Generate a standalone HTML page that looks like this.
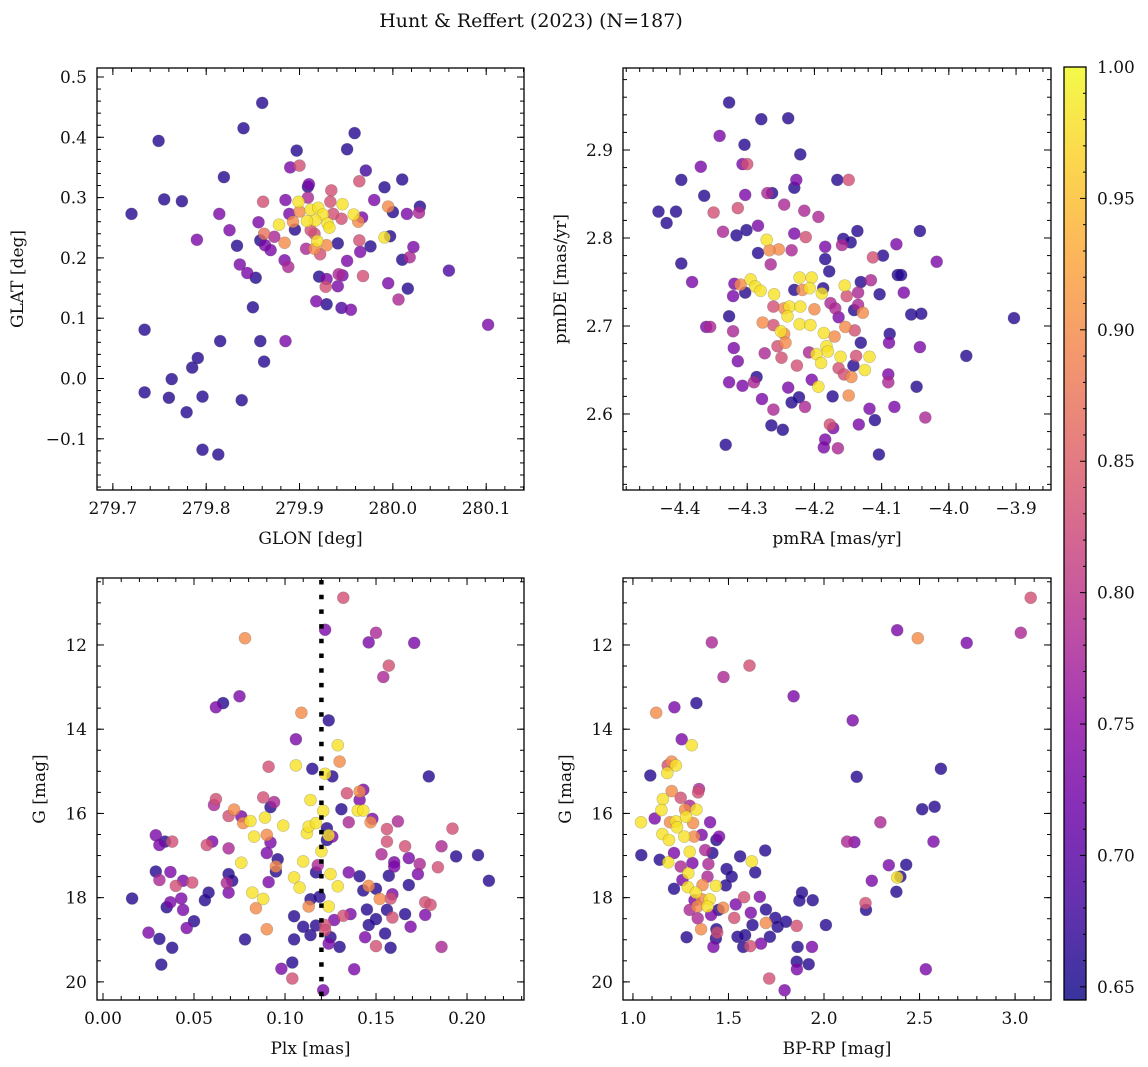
<!DOCTYPE html>
<html><head><meta charset="utf-8"><style>
body{margin:0;background:#fff}
svg{display:block;font-family:"DejaVu Serif","Liberation Serif",serif}
</style></head><body>
<svg id="fig" width="1148" height="1067" viewBox="0 0 1148 1067" xmlns="http://www.w3.org/2000/svg">
<text x="531" y="27" font-size="19" text-anchor="middle" fill="#111">Hunt &amp; Reffert (2023) (N=187)</text>
</svg>
<script>
const tlGlon=[279.86,279.84,279.749,279.959,279.897,279.951,279.89,279.9,279.971,279.819,279.964,279.991,280.01,279.755,279.774,279.72,279.814,279.825,279.79,279.833,279.836,279.844,279.853,279.85,279.734,279.815,279.858,279.885,279.862,279.791,279.785,279.763,279.734,279.76,279.796,279.838,279.779,279.796,279.813,280.102,280.06,280.016,280.006,279.995,280.022,280.018,280.01,280.029,280.028,280.015,280.0,279.995,279.991,279.997,279.98,279.976,279.965,279.964,279.963,279.958,279.967,279.951,279.968,279.946,279.942,279.941,279.928,279.929,279.921,279.918,279.929,279.945,279.955,279.941,279.934,279.946,279.933,279.945,279.909,279.91,279.909,279.899,279.9,279.912,279.92,279.925,279.917,279.908,279.93,279.932,279.919,279.916,279.929,279.922,279.907,279.893,279.895,279.889,279.885,279.861,279.856,279.878,279.862,279.873,279.884,279.858,279.863,279.869,279.884,279.888,279.916,279.936,279.912];
const tlGlat=[0.457,0.415,0.394,0.407,0.378,0.380,0.350,0.353,0.345,0.334,0.327,0.317,0.330,0.297,0.294,0.273,0.273,0.246,0.230,0.220,0.189,0.175,0.167,0.118,0.081,0.062,0.062,0.062,0.028,0.034,0.018,-0.001,-0.023,-0.032,-0.030,-0.036,-0.056,-0.118,-0.126,0.089,0.179,0.149,0.131,0.158,0.218,0.201,0.197,0.285,0.275,0.273,0.276,0.285,0.234,0.236,0.296,0.219,0.210,0.229,0.260,0.272,0.267,0.195,0.170,0.171,0.173,0.153,0.152,0.165,0.169,0.128,0.123,0.117,0.114,0.224,0.312,0.289,0.293,0.265,0.318,0.322,0.300,0.293,0.277,0.280,0.283,0.272,0.262,0.261,0.257,0.250,0.228,0.215,0.221,0.206,0.215,0.260,0.247,0.273,0.296,0.293,0.259,0.255,0.240,0.235,0.225,0.229,0.221,0.213,0.196,0.185,0.240,0.273,0.246];
const tlProb=[.66,.66,.66,.66,.66,.66,.73,.83,.68,.66,.83,.66,.66,.66,.66,.66,.73,.73,.73,.66,.73,.73,.66,.66,.66,.66,.66,.73,.66,.66,.66,.66,.66,.66,.66,.66,.66,.66,.66,.73,.69,.66,.78,.73,.73,.78,.66,.66,.78,.73,.66,.90,.98,.66,.73,.66,.73,.83,.90,.98,.73,.73,.83,.73,.78,.73,.83,.73,.66,.73,.66,.69,.73,.66,.83,.98,.83,.83,.66,.73,.78,.98,.90,.98,.98,.98,.98,.98,.98,.98,.98,.90,.90,.83,.78,.90,.66,.73,.73,.83,.73,.98,.87,.78,.90,.66,.73,.73,.73,.78,.83,.83,.83];

const trPmra=[-4.327,-4.279,-4.239,-4.341,-4.304,-4.221,-4.369,-4.307,-4.300,-4.398,-4.166,-4.149,-4.227,-4.230,-4.364,-4.303,-4.270,-4.263,-4.432,-4.406,-4.420,-4.350,-4.314,-4.245,-4.215,-4.194,-4.336,-4.316,-4.301,-4.284,-4.230,-4.213,-4.136,-4.043,-4.157,-4.146,-4.159,-4.078,-4.271,-4.253,-4.267,-4.234,-4.284,-4.184,-4.265,-4.184,-4.113,-4.098,-4.018,-4.398,-4.178,-4.382,-4.076,-4.071,-4.116,-4.131,-4.295,-4.288,-4.280,-4.310,-4.319,-4.321,-4.303,-4.222,-4.204,-4.207,-4.218,-4.230,-4.260,-4.189,-4.187,-4.155,-4.152,-4.135,-4.103,-4.067,-4.176,-4.169,-4.164,-4.135,-4.141,-4.128,-4.056,-4.041,-3.903,-4.261,-4.245,-4.237,-4.221,-4.200,-4.240,-4.327,-4.361,-4.355,-4.321,-4.277,-4.261,-4.250,-4.245,-4.222,-4.206,-4.186,-4.170,-4.154,-4.140,-4.320,-4.314,-4.274,-4.255,-4.243,-4.249,-4.226,-4.208,-4.197,-4.182,-4.180,-4.190,-4.161,-4.164,-4.138,-4.142,-4.118,-4.125,-4.131,-4.088,-4.089,-4.043,-3.974,-4.156,-4.145,-4.286,-4.327,-4.307,-4.290,-4.204,-4.194,-4.239,-4.223,-4.234,-4.214,-4.278,-4.261,-4.173,-4.149,-4.090,-4.090,-4.048,-4.118,-4.081,-4.035,-4.110,-4.134,-4.177,-4.172,-4.264,-4.247,-4.332,-4.184,-4.186,-4.165,-4.104];
const trPmde=[2.954,2.935,2.936,2.916,2.906,2.895,2.881,2.884,2.884,2.866,2.866,2.866,2.866,2.857,2.848,2.849,2.851,2.851,2.830,2.830,2.817,2.829,2.834,2.838,2.831,2.824,2.807,2.803,2.809,2.814,2.805,2.801,2.808,2.808,2.799,2.795,2.792,2.793,2.798,2.787,2.786,2.786,2.783,2.790,2.770,2.776,2.778,2.780,2.773,2.771,2.762,2.750,2.758,2.758,2.752,2.750,2.753,2.745,2.740,2.747,2.748,2.734,2.738,2.755,2.755,2.743,2.741,2.741,2.736,2.737,2.743,2.746,2.734,2.738,2.736,2.738,2.726,2.720,2.710,2.724,2.718,2.715,2.713,2.714,2.709,2.722,2.720,2.722,2.722,2.719,2.711,2.711,2.699,2.699,2.694,2.704,2.701,2.694,2.691,2.702,2.701,2.692,2.688,2.699,2.695,2.675,2.660,2.669,2.677,2.681,2.664,2.655,2.670,2.668,2.677,2.671,2.658,2.665,2.652,2.666,2.655,2.665,2.650,2.681,2.691,2.681,2.676,2.666,2.645,2.642,2.642,2.636,2.632,2.636,2.639,2.631,2.630,2.619,2.613,2.608,2.617,2.605,2.620,2.621,2.645,2.636,2.631,2.606,2.608,2.596,2.593,2.588,2.588,2.584,2.587,2.582,2.565,2.571,2.562,2.561,2.554];
const trProb=[.66,.66,.66,.73,.66,.66,.73,.73,.83,.66,.66,.83,.73,.66,.66,.73,.78,.66,.66,.66,.66,.83,.83,.78,.78,.78,.78,.66,.66,.73,.73,.83,.66,.66,.66,.66,.78,.73,.98,.90,.90,.78,.66,.73,.78,.66,.83,.66,.73,.66,.66,.73,.66,.66,.78,.66,.98,.98,.98,.90,.73,.73,.66,.98,.98,.98,.90,.66,.98,.98,.66,.98,.83,.78,.66,.73,.78,.78,.73,.78,.66,.90,.66,.66,.66,.83,.90,.98,.98,.90,.98,.66,.73,.78,.78,.90,.83,.98,.90,.98,.98,.98,.90,.90,.83,.73,.73,.78,.83,.90,.83,.83,.78,.98,.98,.98,.98,.98,.83,.83,.66,.98,.98,.66,.66,.73,.73,.66,.83,.90,.66,.73,.73,.78,.73,.98,.73,.66,.66,.78,.73,.78,.66,.90,.73,.78,.66,.73,.73,.78,.66,.73,.83,.73,.66,.66,.66,.73,.73,.78,.66];

const blPlx=[0.132,0.078,0.122,0.150,0.146,0.171,0.157,0.154,0.075,0.066,0.062,0.109,0.124,0.106,0.129,0.130,0.091,0.106,0.115,0.122,0.126,0.179,0.143,0.141,0.134,0.141,0.140,0.143,0.148,0.147,0.131,0.114,0.121,0.135,0.062,0.061,0.088,0.094,0.092,0.072,0.069,0.076,0.077,0.081,0.089,0.099,0.083,0.090,0.092,0.090,0.096,0.095,0.095,0.069,0.076,0.029,0.034,0.031,0.038,0.057,0.060,0.029,0.031,0.037,0.040,0.044,0.049,0.016,0.035,0.037,0.043,0.044,0.056,0.058,0.050,0.046,0.025,0.031,0.038,0.032,0.069,0.071,0.068,0.069,0.091,0.082,0.088,0.084,0.090,0.078,0.110,0.105,0.108,0.117,0.118,0.120,0.123,0.124,0.126,0.123,0.112,0.113,0.117,0.125,0.129,0.135,0.141,0.143,0.146,0.150,0.152,0.157,0.160,0.160,0.153,0.156,0.156,0.162,0.166,0.168,0.174,0.173,0.168,0.159,0.158,0.156,0.145,0.150,0.159,0.166,0.177,0.177,0.180,0.169,0.184,0.186,0.192,0.194,0.206,0.212,0.186,0.158,0.150,0.155,0.144,0.146,0.136,0.132,0.127,0.124,0.130,0.125,0.122,0.122,0.117,0.114,0.110,0.105,0.105,0.114,0.113,0.124,0.119,0.104,0.098,0.104,0.138,0.121];
const blG=[10.88,11.84,11.64,11.71,11.94,11.95,12.49,12.76,13.22,13.38,13.48,13.61,13.79,14.24,14.38,14.77,14.89,14.86,14.94,15.06,15.12,15.12,15.44,15.48,15.52,15.68,15.93,15.93,16.13,16.21,15.90,15.68,15.94,16.21,15.66,15.80,15.62,15.73,15.85,15.91,16.06,16.07,16.23,16.18,16.10,16.29,16.55,16.51,16.69,16.94,17.09,17.26,17.38,16.83,17.17,16.52,16.67,16.75,16.67,16.75,16.67,17.38,17.58,17.39,17.72,17.60,17.64,18.02,18.23,18.11,18.02,18.29,18.06,17.88,18.56,18.72,18.83,18.98,19.19,19.59,17.44,17.60,17.65,17.88,17.63,17.88,18.03,18.25,18.75,18.99,17.14,17.52,17.76,17.40,17.23,16.90,16.63,16.52,16.55,16.35,16.47,16.31,16.23,17.44,17.73,17.40,17.49,17.83,17.72,17.79,18.03,17.48,17.16,17.26,16.97,16.67,16.37,16.19,16.78,17.06,17.20,17.44,17.70,17.92,18.02,18.29,18.28,18.51,18.47,18.39,18.41,18.11,18.17,18.69,17.28,16.78,16.36,17.02,16.99,17.60,19.17,19.19,19.15,18.85,18.94,18.65,18.39,18.43,18.53,19.09,19.17,18.94,18.65,18.77,18.66,18.89,18.69,18.44,18.99,18.04,18.21,18.21,17.98,19.54,19.69,19.92,19.70,20.20];
const blProb=[.83,.90,.73,.78,.73,.73,.83,.78,.73,.66,.73,.90,.66,.73,.98,.90,.83,.98,.66,.98,.66,.66,.73,.90,.83,.73,.98,.98,.73,.90,.66,.98,.98,.78,.83,.78,.83,.78,.66,.90,.83,.73,.90,.98,.98,.98,.98,.90,.73,.73,.66,.90,.66,.78,.98,.73,.66,.73,.83,.83,.73,.66,.78,.73,.83,.73,.83,.66,.66,.73,.73,.73,.66,.66,.66,.73,.73,.66,.66,.66,.66,.66,.78,.73,.73,.98,.98,.90,.90,.66,.98,.98,.98,.66,.78,.98,.66,.98,.73,.66,.98,.98,.98,.98,.98,.73,.66,.66,.90,.66,.90,.66,.73,.73,.78,.83,.83,.78,.83,.73,.78,.73,.66,.73,.83,.66,.66,.66,.83,.66,.73,.83,.83,.73,.83,.78,.83,.66,.66,.66,.78,.66,.83,.66,.73,.66,.73,.83,.73,.73,.66,.66,.83,.83,.66,.66,.66,.66,.66,.66,.90,.98,.66,.66,.73,.83,.73,.73];
const plxLine=0.12;

const brColor=[3.082,2.383,2.491,2.747,3.030,1.413,1.474,1.610,1.841,1.332,1.217,1.122,2.150,1.255,1.308,2.612,2.171,1.091,1.203,1.182,1.225,1.180,1.346,1.341,1.203,1.157,1.250,1.297,1.149,1.273,1.332,1.042,1.114,1.194,1.225,1.278,1.315,1.404,1.154,1.189,1.231,1.269,1.320,1.360,1.437,1.451,1.044,1.140,1.215,1.297,1.378,1.416,1.185,1.250,1.311,1.395,1.290,1.259,1.215,1.287,1.329,1.364,1.434,1.390,1.490,1.517,1.486,1.561,1.622,1.640,1.692,1.322,1.360,1.402,1.390,1.337,1.297,1.339,1.409,1.448,1.472,1.538,1.582,1.664,1.530,1.617,1.696,1.626,1.696,1.745,1.757,1.801,1.857,1.885,1.871,1.941,2.010,1.357,1.437,1.441,1.434,1.421,1.281,1.547,1.587,1.577,1.614,1.670,1.717,1.862,1.937,1.857,1.920,1.858,1.713,1.794,2.217,2.220,2.295,2.121,2.159,2.250,2.339,2.430,2.383,2.400,2.379,2.514,2.579,2.573,2.533];
const brG=[10.88,11.65,11.84,11.95,11.71,11.94,12.76,12.49,13.22,13.38,13.48,13.61,13.79,14.24,14.38,14.94,15.13,15.10,14.77,14.86,14.86,15.04,15.42,15.50,15.47,15.66,15.63,15.82,15.92,15.91,15.91,16.21,16.12,16.21,16.19,16.08,16.23,16.21,16.49,16.63,16.33,16.55,16.55,16.51,16.63,16.55,16.99,17.10,16.94,16.91,16.87,16.94,17.16,17.26,17.18,17.20,17.42,17.58,17.79,17.75,17.88,17.70,17.72,17.50,17.32,17.50,17.71,17.02,17.14,17.40,16.88,18.06,18.04,18.04,18.21,18.21,18.29,18.49,18.41,18.29,18.24,18.16,17.99,17.98,18.48,18.36,18.28,18.65,18.60,18.48,18.69,18.57,18.67,17.88,18.07,18.06,18.65,18.75,18.75,18.83,18.97,19.17,18.94,18.93,18.89,19.17,19.15,19.09,18.93,19.17,19.17,19.52,19.58,19.70,19.92,20.20,18.13,18.29,16.21,16.67,16.68,17.60,17.23,17.22,17.52,17.50,17.86,15.90,15.84,16.67,19.70];
const brProb=[.83,.73,.90,.73,.78,.78,.78,.83,.73,.66,.73,.90,.73,.73,.98,.66,.66,.66,.90,.83,.98,.98,.78,.83,.90,.98,.83,.78,.98,.90,.98,.98,.73,.90,.98,.98,.90,.73,.98,.98,.98,.98,.90,.73,.66,.73,.66,.66,.73,.98,.78,.66,.98,.78,.73,.78,.98,.73,.66,.98,.98,.90,.98,.78,.66,.66,.66,.66,.98,.66,.66,.73,.90,.98,.98,.90,.78,.78,.73,.66,.90,.73,.83,.73,.83,.73,.66,.66,.90,.66,.66,.66,.83,.66,.66,.66,.66,.90,.66,.83,.66,.73,.66,.66,.66,.66,.83,.73,.66,.66,.73,.66,.66,.73,.83,.73,.83,.66,.78,.78,.73,.73,.73,.66,.98,.66,.66,.66,.66,.73,.73];

const cbTicks=[0.65,0.70,0.75,0.80,0.85,0.90,0.95,1.00];
const vmin=0.645, vmax=1.0;

const NS="http://www.w3.org/2000/svg";
const svg=document.getElementById('fig');
const stops=["#0d0887","#41049d","#6a00a8","#8f0da4","#b12a90","#cc4778","#e16462","#f2844b","#fca636","#fcce25","#f0f921"];
function hex(h){return [1,3,5].map(i=>parseInt(h.substr(i,2),16));}
function plasma(t){t=Math.max(0,Math.min(1,t));const s=t*10,i=Math.min(9,Math.floor(s)),f=s-i;const a=hex(stops[i]),b=hex(stops[i+1]);return `rgb(${a.map((v,k)=>Math.round(v+(b[k]-v)*f)).join(',')})`;}
function el(tag,attrs,parent){const e=document.createElementNS(NS,tag);for(const k in attrs)e.setAttribute(k,attrs[k]);(parent||svg).appendChild(e);return e;}
function fmt(v,d){let s=v.toFixed(d);if(Math.abs(v)<1e-9)s=(0).toFixed(d);return s.replace('-','\u2212');}
const FS=17;

function panel(name,box,xr,yr,xt,yt,xlab,ylab,xs,ys,ps,ylabX){
  const [L,T,R,B]=box;
  const sx=v=>L+(v-xr[0])/(xr[1]-xr[0])*(R-L);
  const sy=v=>T+(v-yr[0])/(yr[1]-yr[0])*(B-T);
  const g=el('g',{});
  
  
  const n=Math.min(xs.length,ys.length,ps.length);
  const idx=[...Array(n).keys()].sort((a,b)=>ps[a]-ps[b]);
  const pg=el('g',{},g);
  
  
  for(const i of idx){
    const c=el('circle',{cx:sx(xs[i]).toFixed(1),cy:sy(ys[i]).toFixed(1),r:6,fill:plasma((ps[i]-vmin)/(vmax-vmin)),'fill-opacity':0.8,stroke:'#555','stroke-opacity':0.35,'stroke-width':0.6},pg);
    
    
  }
  const tk=el('g',{stroke:'#000','stroke-width':1},g);
  function ticks(lo,hi,step,isX,len,labels,dec){
    const k0=Math.ceil(Math.min(lo,hi)/step-1e-6),k1=Math.floor(Math.max(lo,hi)/step+1e-6);
    for(let k=k0;k<=k1;k++){const v=k*step;
      if(isX){const x=sx(v);el('line',{x1:x,x2:x,y1:B,y2:B-len},tk);el('line',{x1:x,x2:x,y1:T,y2:T+len},tk);
        if(labels){const t=el('text',{x:x,y:B+24,'font-size':FS,'text-anchor':'middle',fill:'#111'},g);t.textContent=fmt(v,dec);}}
      else{const y=sy(v);el('line',{x1:L,x2:L+len,y1:y,y2:y},tk);el('line',{x1:R,x2:R-len,y1:y,y2:y},tk);
        if(labels){const t=el('text',{x:L-10,y:y+6,'font-size':FS,'text-anchor':'end',fill:'#111'},g);t.textContent=fmt(v,dec);}}
    }
  }
  ticks(xr[0],xr[1],xt[1],true,4,false);ticks(xr[0],xr[1],xt[0],true,7,true,xt[2]);
  ticks(yr[0],yr[1],yt[1],false,4,false);ticks(yr[0],yr[1],yt[0],false,7,true,yt[2]);
  const fr=el('rect',{x:L,y:T,width:R-L,height:B-T,fill:'none',stroke:'#000','stroke-width':1.3},g);
  
  
  const xl=el('text',{x:(L+R)/2,y:B+54,'font-size':FS,'text-anchor':'middle',fill:'#111'},g);xl.textContent=xlab;
  
  
  const cy=(T+B)/2;
  const yl=el('text',{x:ylabX,y:cy,'font-size':FS,'text-anchor':'middle',fill:'#111',transform:`rotate(-90 ${ylabX} ${cy})`},g);yl.textContent=ylab;
  
  
  return {sx,sy,g};
}

panel('glon-glat',[97,68,524,490],[279.683,280.1405],[0.5149,-0.1849],[0.1,0.02,1],[0.1,0.02,1],'GLON [deg]','GLAT [deg]',tlGlon,tlGlat,tlProb,23);
panel('pm',[623,68,1051,490],[-4.4848,-3.848],[2.9932,2.5136],[0.1,0.02,1],[0.1,0.02,1],'pmRA [mas/yr]','pmDE [mas/yr]',trPmra,trPmde,trProb,566);
const bl=panel('plx-g',[97,578,524,1000],[-0.0033,0.2313],[10.41,20.43],[0.05,0.01,2],[2,0.5,0],'Plx [mas]','G [mag]',blPlx,blG,blProb,45);
panel('cmd',[623,578,1051,1000],[0.948,3.188],[10.41,20.43],[0.5,0.1,1],[2,0.5,0],'BP-RP [mag]','G [mag]',brColor,brG,brProb,571);

const dl=el('line',{x1:bl.sx(plxLine),x2:bl.sx(plxLine),y1:580,y2:1000,stroke:'#000','stroke-width':4.5,'stroke-dasharray':'4.5,10.2'});



const defs=el('defs',{});
const lg=el('linearGradient',{id:'cbg',x1:0,y1:1,x2:0,y2:0},defs);
stops.forEach((c,i)=>el('stop',{offset:i/10,'stop-color':c},lg));
const cb=el('g',{});


const cT=67,cB=1000,cL=1064,cR=1086;
const cys=v=>cB-(v-vmin)/(vmax-vmin)*(cB-cT);
el('rect',{x:cL,y:cT,width:cR-cL,height:cB-cT,fill:'url(#cbg)','fill-opacity':0.82},cb);
for(let k=Math.ceil(vmin*100-1e-6);k<=100;k++){const v=k/100,y=cys(v),len=(k%5===0)?6:3;el('line',{x1:cR,x2:cR-len,y1:y,y2:y,stroke:'#000','stroke-width':1},cb);}
cbTicks.forEach(v=>{const t=el('text',{x:1097,y:cys(v)+6,'font-size':FS,fill:'#111'},cb);t.textContent=v.toFixed(2);

});
el('rect',{x:cL,y:cT,width:cR-cL,height:cB-cT,fill:'none',stroke:'#000','stroke-width':1.3},cb);
</script>
</body></html>
